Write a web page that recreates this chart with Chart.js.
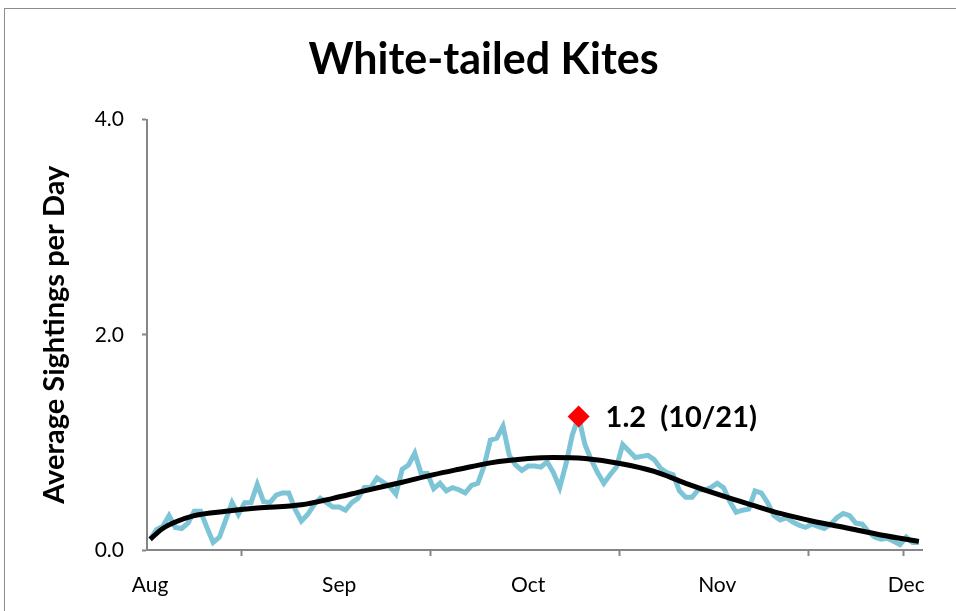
<!DOCTYPE html>
<html>
<head>
<meta charset="utf-8">
<script src="https://cdn.jsdelivr.net/npm/chart.js@4.4.0/dist/chart.umd.min.js"></script>
<style>
  html, body { margin: 0; padding: 0; background: #fff; overflow: hidden; }
  .frame { position: absolute; left: 4px; top: 8px; width: 1000px; height: 700px; border: 1px solid #8c8c8c; }
  .wrap { position: absolute; left: 0; top: 0; width: 956px; height: 611px; }
</style>
</head>
<body>
<div class="frame"></div>
<div class="wrap"><canvas id="kites" width="956" height="611"></canvas></div>
<script>
// daily average sightings, Aug 14 .. Dec 14 (index = day of season)
const sightings = [
  0.10, 0.19, 0.22, 0.32, 0.21, 0.20, 0.25, 0.36, 0.36, 0.21,
  0.07, 0.12, 0.28, 0.44, 0.33, 0.44, 0.44, 0.61, 0.45, 0.44,
  0.51, 0.53, 0.53, 0.38, 0.27, 0.33, 0.42, 0.48, 0.44, 0.40,
  0.40, 0.37, 0.44, 0.48, 0.58, 0.58, 0.67, 0.63, 0.59, 0.52,
  0.75, 0.79, 0.90, 0.71, 0.71, 0.57, 0.62, 0.55, 0.58, 0.56,
  0.53, 0.60, 0.62, 0.78, 1.02, 1.04, 1.15, 0.88, 0.79, 0.74,
  0.78, 0.78, 0.77, 0.82, 0.72, 0.58, 0.80, 1.07, 1.24, 0.98,
  0.84, 0.72, 0.62, 0.70, 0.77, 0.98, 0.92, 0.86, 0.87, 0.88,
  0.84, 0.76, 0.72, 0.70, 0.55, 0.49, 0.49, 0.56, 0.56, 0.58,
  0.62, 0.58, 0.45, 0.35, 0.37, 0.38, 0.55, 0.53, 0.44, 0.32,
  0.28, 0.30, 0.26, 0.23, 0.21, 0.24, 0.22, 0.20, 0.24, 0.30,
  0.34, 0.32, 0.25, 0.24, 0.17, 0.12, 0.10, 0.11, 0.08, 0.05,
  0.12, 0.07, 0.07
];

// smooth trend line, read at a few days
const trendDays   = [0, 2, 4, 7, 12, 17, 24, 29, 34, 40, 45, 49, 54, 60, 64, 69, 75, 80, 85, 91, 96, 100, 105, 111, 116, 122];
const trendValues = [0.10, 0.20, 0.26, 0.32, 0.36, 0.39, 0.42, 0.48, 0.55, 0.63, 0.70, 0.75, 0.81, 0.85, 0.86, 0.85, 0.80, 0.73, 0.62, 0.50, 0.41, 0.34, 0.27, 0.20, 0.14, 0.08];

const monthLabels = ['Aug', 'Sep', 'Oct', 'Nov', 'Dec'];
const labelDays = [0, 30, 60, 90, 120];
const tickDays = [14.5, 44.5, 74.5, 104.5, 119.5];
const yTicks = [0, 2, 4];

const peakDay = 68;
const peakValue = 1.24;
const peakText = '1.2  (10/21)';

const AXIS = '#868686';

const peakLabel = {
  id: 'peakLabel',
  afterDatasetsDraw(chart) {
    const { ctx, scales: { x, y } } = chart;
    ctx.save();
    ctx.font = 'bold 29px Lato';
    ctx.fillStyle = '#000';
    ctx.textBaseline = 'middle';
    ctx.fillText(peakText, x.getPixelForValue(peakDay) + 27, y.getPixelForValue(peakValue) + 1);
    ctx.restore();
  }
};

new Chart(document.getElementById('kites'), {
  type: 'line',
  data: {
    datasets: [
      {
        label: 'Peak',
        data: [{ x: peakDay, y: peakValue }],
        showLine: false,
        pointStyle: 'rectRot',
        pointRadius: 11,
        backgroundColor: '#ff0000',
        borderColor: '#ff0000',
        borderWidth: 0,
        order: 0
      },
      {
        label: 'Trend',
        data: trendDays.map((d, i) => ({ x: d, y: trendValues[i] })),
        borderColor: '#000',
        borderWidth: 5,
        pointRadius: 0,
        cubicInterpolationMode: 'monotone',
        order: 1
      },
      {
        label: 'Average sightings',
        data: sightings.map((v, i) => ({ x: i, y: v })),
        borderColor: '#7cc4d6',
        borderWidth: 5,
        pointRadius: 0,
        tension: 0,
        order: 2
      }
    ]
  },
  options: {
    responsive: false,
    animation: false,
    layout: { padding: { left: 37, right: 26, top: 0, bottom: 0 } },
    plugins: {
      legend: { display: false },
      tooltip: { enabled: false },
      title: {
        display: true,
        text: 'White-tailed Kites',
        color: '#000',
        font: { family: 'Lato', size: 43, weight: 'bold', lineHeight: 1.2 },
        padding: { top: 34, bottom: 34 }
      }
    },
    scales: {
      x: {
        type: 'linear',
        min: -0.5,
        max: 122.5,
        afterBuildTicks: s => {
          s.ticks = [...labelDays, ...tickDays].sort((a, b) => a - b).map(v => ({ value: v }));
        },
        ticks: {
          autoSkip: false,
          maxRotation: 0,
          padding: 17,
          color: '#000',
          font: { family: 'Lato', size: 21 },
          callback: v => {
            const k = labelDays.indexOf(v);
            return k >= 0 ? monthLabels[k] : '';
          }
        },
        grid: {
          drawOnChartArea: false,
          tickLength: 6,
          tickWidth: 2,
          tickColor: c => tickDays.includes(c.tick.value) ? AXIS : 'rgba(0,0,0,0)'
        },
        border: { color: AXIS, width: 2 },
        afterFit: s => { s.height = 61; }
      },
      y: {
        min: 0,
        max: 4,
        afterBuildTicks: s => { s.ticks = yTicks.map(v => ({ value: v })); },
        ticks: {
          padding: 18,
          color: '#000',
          font: { family: 'Lato', size: 21 },
          callback: v => v.toFixed(1)
        },
        grid: { drawOnChartArea: false, tickLength: 5, tickWidth: 2, tickColor: AXIS },
        border: { color: AXIS, width: 2 },
        title: {
          display: true,
          text: 'Average Sightings per Day',
          color: '#000',
          font: { family: 'Lato', size: 29, weight: 'bold' },
          padding: { top: 0, bottom: 0 }
        },
        afterFit: s => { s.width = 110; }
      },
      yRight: {
        position: 'right',
        min: 0,
        max: 4,
        grid: { display: false, drawTicks: false },
        border: { display: false },
        ticks: { display: false },
        afterFit: s => { s.width = 8; }
      }
    }
  },
  plugins: [peakLabel]
});
</script>
</body>
</html>
